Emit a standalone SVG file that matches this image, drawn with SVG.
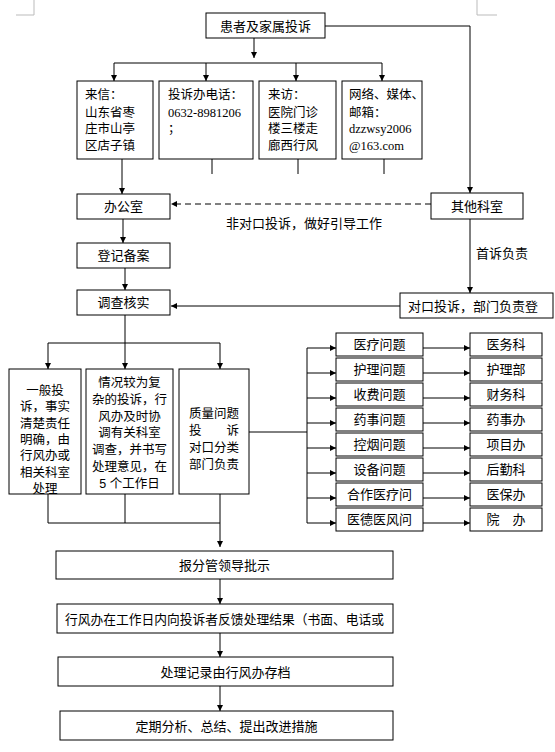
<svg xmlns="http://www.w3.org/2000/svg" width="555" height="752" viewBox="0 0 555 752">
<defs>
<marker id="ah" markerWidth="6" markerHeight="6" refX="6" refY="3" orient="auto" markerUnits="userSpaceOnUse">
<path d="M0,0 L6,3 L0,6 z" fill="#000"/>
</marker>
<style>
rect.b{fill:#fff;stroke:#000;stroke-width:1}
text{font-family:"Noto Sans CJK SC","Liberation Sans",sans-serif;font-size:13px;fill:#000}
text.c{text-anchor:middle}
text.m{font-family:"Liberation Sans","Noto Sans CJK SC",sans-serif;font-size:12.5px}
.lat{font-family:"Liberation Serif","Noto Sans CJK SC",serif}
line,polyline,path.l{stroke:#000;stroke-width:1;fill:none}
.a{marker-end:url(#ah)}
.d{stroke-dasharray:6 4}
.crn{stroke:#bbb;stroke-width:1;fill:none}
</style>
</defs>
<rect width="555" height="752" fill="#fff"/>
<polyline class="crn" points="16,15 34,15 34,0"/>
<polyline class="crn" points="477,0 477,15 497,15"/>

<g id="connectors">
<line class="a" x1="254" y1="38" x2="254" y2="58"/>
<line x1="114" y1="63" x2="382" y2="63"/>
<line class="a" x1="114" y1="63" x2="114" y2="81"/>
<line class="a" x1="206" y1="63" x2="206" y2="81"/>
<line class="a" x1="296" y1="63" x2="296" y2="81"/>
<line class="a" x1="382" y1="63" x2="382" y2="81"/>
<polyline class="a" points="325,26 470,26 470,193"/>
<line class="a" x1="122" y1="159" x2="122" y2="194"/>
<line x1="212" y1="159" x2="212" y2="174"/>
<line x1="298" y1="159" x2="298" y2="174"/>
<line x1="384" y1="159" x2="384" y2="174"/>
<line class="a d" x1="431" y1="204" x2="171" y2="204"/>
<line class="a" x1="470" y1="219" x2="470" y2="293"/>
<line class="a" x1="400" y1="306" x2="171" y2="306"/>
<line class="a" x1="123" y1="219" x2="123" y2="243"/>
<line class="a" x1="125" y1="268" x2="125" y2="290"/>
<line x1="125" y1="315" x2="125" y2="343"/>
<line x1="48" y1="343" x2="220" y2="343"/>
<line class="a" x1="48" y1="343" x2="48" y2="369"/>
<line class="a" x1="125" y1="343" x2="125" y2="369"/>
<line class="a" x1="220" y1="343" x2="220" y2="369"/>
<line x1="48" y1="494" x2="48" y2="523"/>
<line x1="125" y1="494" x2="125" y2="523"/>
<line x1="48" y1="523" x2="220" y2="523"/>
<line class="a" x1="220" y1="494" x2="220" y2="547"/>
<line x1="249" y1="432" x2="307" y2="432"/>
<line x1="307" y1="348" x2="307" y2="523"/>
<line class="a" x1="307" y1="348" x2="336" y2="348"/>
<line class="a" x1="307" y1="373" x2="336" y2="373"/>
<line class="a" x1="307" y1="398" x2="336" y2="398"/>
<line class="a" x1="307" y1="423" x2="336" y2="423"/>
<line class="a" x1="307" y1="448" x2="336" y2="448"/>
<line class="a" x1="307" y1="473" x2="336" y2="473"/>
<line class="a" x1="307" y1="498" x2="336" y2="498"/>
<line class="a" x1="307" y1="523" x2="336" y2="523"/>
<line class="a" x1="423" y1="348" x2="470" y2="348"/>
<line class="a" x1="423" y1="373" x2="470" y2="373"/>
<line class="a" x1="423" y1="398" x2="470" y2="398"/>
<line class="a" x1="423" y1="423" x2="470" y2="423"/>
<line class="a" x1="423" y1="448" x2="470" y2="448"/>
<line class="a" x1="423" y1="473" x2="470" y2="473"/>
<line class="a" x1="423" y1="498" x2="470" y2="498"/>
<line class="a" x1="423" y1="523" x2="470" y2="523"/>
<line class="a" x1="220" y1="579" x2="220" y2="604"/>
<line class="a" x1="220" y1="633" x2="220" y2="657"/>
<line class="a" x1="220" y1="686" x2="220" y2="711"/>
<text x="226" y="228">非对口投诉，做好引导工作</text>
<text x="476" y="258">首诉负责</text>
</g>

<g id="n-top"><rect class="b" x="206" y="13" width="119" height="25"/><text class="c" x="265.5" y="31">患者及家属投诉</text></g>

<g id="n-letter"><rect class="b" x="77" y="81" width="76" height="78"/>
<text class="m"><tspan x="85" y="99">来信：</tspan><tspan x="85" y="116.5">山东省枣</tspan><tspan x="85" y="133">庄市山亭</tspan><tspan x="85" y="149.5">区店子镇</tspan></text></g>

<g id="n-phone"><rect class="b" x="159" y="81" width="94" height="78"/>
<text class="m"><tspan x="168" y="99">投诉办电话：</tspan><tspan class="lat" x="168" y="116.5">0632-8981206</tspan><tspan x="168" y="133">；</tspan></text></g>

<g id="n-visit"><rect class="b" x="259" y="81" width="77" height="78"/>
<text class="m"><tspan x="268" y="99">来访：</tspan><tspan x="268" y="116.5">医院门诊</tspan><tspan x="268" y="133">楼三楼走</tspan><tspan x="268" y="149.5">廊西行风</tspan></text></g>

<g id="n-net"><rect class="b" x="342" y="81" width="80" height="78"/>
<text class="m"><tspan x="349" y="99">网络、媒体、</tspan><tspan x="349" y="116.5">邮箱：</tspan><tspan class="lat" x="349" y="133">dzzwsy2006</tspan><tspan class="lat" x="349" y="149.5">@163.com</tspan></text></g>

<g id="n-office"><rect class="b" x="77" y="194" width="93" height="25"/><text class="c" x="123.5" y="211">办公室</text></g>
<g id="n-other"><rect class="b" x="431" y="193" width="92" height="26"/><text class="c" x="477" y="211">其他科室</text></g>
<g id="n-register"><rect class="b" x="77" y="243" width="93" height="25"/><text class="c" x="123.5" y="260">登记备案</text></g>
<g id="n-investigate"><rect class="b" x="77" y="290" width="93" height="25"/><text class="c" x="123.5" y="307">调查核实</text></g>
<g id="n-dept"><rect class="b" x="400" y="293" width="153" height="25"/><text x="408" y="311">对口投诉，部门负责登</text></g>

<g id="n-general"><rect class="b" x="9" y="369" width="72" height="125"/>
<text class="c m"><tspan x="45" y="395">一般投</tspan><tspan x="45" y="411.3">诉，事实</tspan><tspan x="45" y="427.6">清楚责任</tspan><tspan x="45" y="443.9">明确，由</tspan><tspan x="45" y="460.2">行风办或</tspan><tspan x="45" y="476.5">相关科室</tspan><tspan x="45" y="492.8">处理</tspan></text></g>

<g id="n-complex"><rect class="b" x="86" y="369" width="87" height="125"/>
<text class="c m"><tspan x="129.5" y="387">情况较为复</tspan><tspan x="129.5" y="403.8">杂的投诉，行</tspan><tspan x="129.5" y="420.6">风办及时协</tspan><tspan x="129.5" y="437.4">调有关科室</tspan><tspan x="129.5" y="454.2">调查，并书写</tspan><tspan x="129.5" y="471">处理意见，在</tspan><tspan x="129.5" y="487.8">5 个工作日</tspan></text></g>

<g id="n-quality"><rect class="b" x="179" y="369" width="70" height="125"/>
<text class="c m"><tspan x="214" y="418">质量问题</tspan><tspan x="214" y="435">投　　诉</tspan><tspan x="214" y="452">对口分类</tspan><tspan x="214" y="469">部门负责</tspan></text></g>

<g id="n-issues">
<rect class="b" x="336" y="333" width="87" height="23"/><text class="c" x="379.5" y="349">医疗问题</text>
<rect class="b" x="336" y="358" width="87" height="23"/><text class="c" x="379.5" y="374">护理问题</text>
<rect class="b" x="336" y="383" width="87" height="23"/><text class="c" x="379.5" y="399">收费问题</text>
<rect class="b" x="336" y="408" width="87" height="23"/><text class="c" x="379.5" y="424">药事问题</text>
<rect class="b" x="336" y="433" width="87" height="23"/><text class="c" x="379.5" y="449">控烟问题</text>
<rect class="b" x="336" y="458" width="87" height="23"/><text class="c" x="379.5" y="474">设备问题</text>
<rect class="b" x="336" y="483" width="87" height="23"/><text class="c" x="379.5" y="499">合作医疗问</text>
<rect class="b" x="336" y="508" width="87" height="23"/><text class="c" x="379.5" y="524">医德医风问</text>
</g>

<g id="n-depts">
<rect class="b" x="470" y="333" width="72" height="23"/><text class="c" x="506" y="349">医务科</text>
<rect class="b" x="470" y="358" width="72" height="23"/><text class="c" x="506" y="374">护理部</text>
<rect class="b" x="470" y="383" width="72" height="23"/><text class="c" x="506" y="399">财务科</text>
<rect class="b" x="470" y="408" width="72" height="23"/><text class="c" x="506" y="424">药事办</text>
<rect class="b" x="470" y="433" width="72" height="23"/><text class="c" x="506" y="449">项目办</text>
<rect class="b" x="470" y="458" width="72" height="23"/><text class="c" x="506" y="474">后勤科</text>
<rect class="b" x="470" y="483" width="72" height="23"/><text class="c" x="506" y="499">医保办</text>
<rect class="b" x="470" y="508" width="72" height="23"/><text class="c" x="506" y="524">院　办</text>
</g>

<g id="n-leader"><rect class="b" x="56" y="551" width="337" height="28"/><text class="c" x="224.5" y="570">报分管领导批示</text></g>
<g id="n-feedback"><rect class="b" x="57" y="604" width="336" height="29"/><text x="65" y="623.5" textLength="319" lengthAdjust="spacingAndGlyphs">行风办在工作日内向投诉者反馈处理结果（书面、电话或</text></g>
<g id="n-archive"><rect class="b" x="58" y="657" width="335" height="29"/><text class="c" x="225.5" y="676.5">处理记录由行风办存档</text></g>
<g id="n-analysis"><rect class="b" x="60" y="711" width="333" height="29"/><text class="c" x="226.5" y="730.5">定期分析、总结、提出改进措施</text></g>
</svg>
